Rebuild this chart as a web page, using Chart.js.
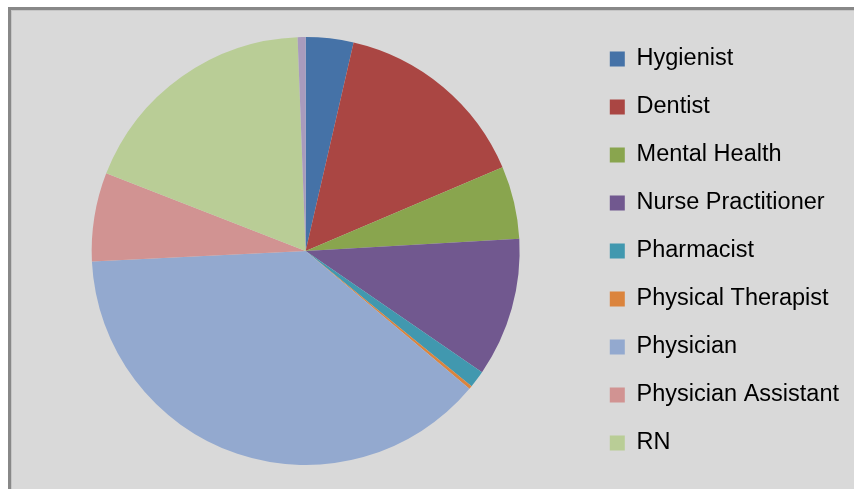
<!DOCTYPE html>
<html>
<head>
<meta charset="utf-8">
<script src="https://cdn.jsdelivr.net/npm/chart.js@4"></script>
<style>
  html, body { margin: 0; padding: 0; background: #fff; overflow: hidden; }
  body { width: 854px; height: 489px; position: relative; }
  #frame {
    position: absolute; left: 8px; top: 7px;
    width: 900px; height: 520px;
    border-left: 3px solid #888; border-top: 3px solid #888;
    background: #d9d9d9;
    box-shadow: inset 1px 1px 0 #c6c6c6;
  }
  #providerChart { position: absolute; left: 0; top: 0; }
</style>
</head>
<body>
<div id="frame">
  <canvas id="providerChart" width="838" height="500"></canvas>
</div>
<script>
const categories = [
  "Hygienist",
  "Dentist",
  "Mental Health",
  "Nurse Practitioner",
  "Pharmacist",
  "Physical Therapist",
  "Physician",
  "Physician Assistant",
  "RN",
  ""
];
const shares = [3.6, 15.0, 5.5, 10.5, 1.3, 0.25, 38.1, 6.7, 18.5, 0.6];
const sliceColors = [
  "#4572a7", "#aa4643", "#89a54e", "#71588f", "#4198af",
  "#db843d", "#93a9cf", "#d19392", "#b9cd96", "#a99bbd"
];

let providerChart;

function initializeProviderChart() {
  const ctx = document.getElementById("providerChart").getContext("2d");
  providerChart = new Chart(ctx, {
    type: "pie",
    data: {
      labels: categories,
      datasets: [
        {
          data: shares,
          backgroundColor: sliceColors,
          borderWidth: 0,
          radius: 214,
        },
      ],
    },
    options: {
      responsive: false,
      animation: false,
      layout: {
        padding: { left: 15, top: 0, bottom: 18, right: 0 },
      },
      plugins: {
        tooltip: { enabled: false },
        legend: {
          position: "right",
          labels: {
            boxWidth: 15,
            boxHeight: 15,
            padding: 24.5,
            color: "#000",
            font: { family: "Liberation Sans", size: 23.5 },
            // the last slice has no name and is left out of the legend
            filter: (item) => item.text !== "",
          },
        },
      },
    },
  });
}

initializeProviderChart();
</script>
</body>
</html>
